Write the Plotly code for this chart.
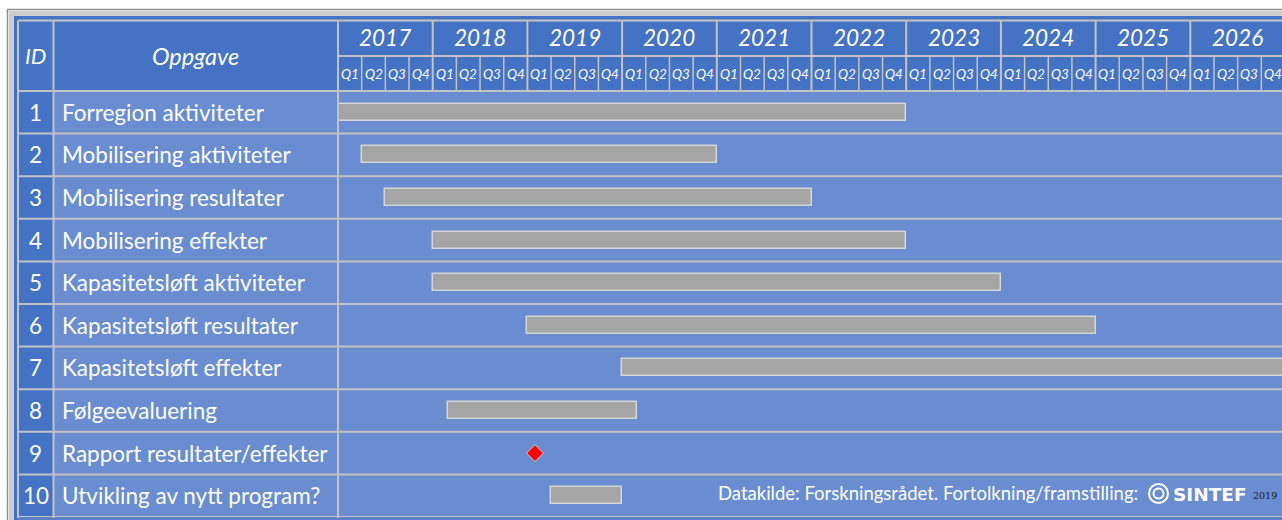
import plotly.graph_objects as go

# ---------------- data ----------------
ids = [1, 2, 3, 4, 5, 6, 7, 8, 9, 10]
tasks = [
    "Forregion aktiviteter",
    "Mobilisering aktiviteter",
    "Mobilisering resultater",
    "Mobilisering effekter",
    "Kapasitetsløft aktiviteter",
    "Kapasitetsløft resultater",
    "Kapasitetsløft effekter",
    "Følgeevaluering",
    "Rapport resultater/effekter",
    "Utvikling av nytt program?",
]
# start / end in decimal years (None = no bar)
start_year = [2017.0, 2017.25, 2017.5, 2018.0, 2018.0, 2019.0, 2020.0, 2018.16, None, 2019.25]
end_year = [2023.0, 2021.0, 2022.0, 2023.0, 2024.0, 2025.0, 2027.0, 2020.16, None, 2020.0]
milestone_id = [9]
milestone_year = [2019.08]
years = [2017, 2018, 2019, 2020, 2021, 2022, 2023, 2024, 2025, 2026]
quarters = ["Q1", "Q2", "Q3", "Q4"]
header_id = "ID"
header_task = "Oppgave"
source_text = "Datakilde: Forskningsrådet. Fortolkning/framstilling:"
logo_text = "SINTEF"
logo_year = "2019"

# ---------------- layout constants (pixels) ----------------
W, H = 1282, 520
X_L, X_ID, X_G = 18, 53.5, 338          # left edge, ID/Oppgave split, gantt start
Y_T, Y_M, Y_B, Y_E = 20.5, 56, 91, 517  # header top, header mid, header bottom, table bottom
YEAR_PX = 94.7

HDR = "#4472C4"
BODY = "#698DD0"
GRID = "#C3C3C3"
FONT = "Lato"


def px(x):
    return x / W


def py(y):
    return 1 - y / H


x0 = years[0]
x_end = x0 + (W - X_G) / YEAR_PX

fig = go.Figure()

# bars
bx, bb, by = [], [], []
for i, s, e in zip(ids, start_year, end_year):
    if s is None:
        continue
    by.append(i)
    bb.append(s)
    bx.append(e - s)
fig.add_trace(go.Bar(
    orientation="h", y=by, x=bx, base=bb, width=0.4,
    marker=dict(color="#A5A5A5", line=dict(color="#D6D6D6", width=1.5)),
    hoverinfo="skip", showlegend=False,
))
fig.add_trace(go.Scatter(
    x=milestone_year, y=milestone_id, mode="markers",
    marker=dict(symbol="diamond", size=13, color="#FF0000", line=dict(color="#D0D0D0", width=1)),
    hoverinfo="skip", showlegend=False,
))

shapes = []


def rect(xa, xb, ya, yb, fill):
    shapes.append(dict(type="rect", xref="paper", yref="paper", x0=px(xa), x1=px(xb), y0=py(yb), y1=py(ya),
                       fillcolor=fill, line=dict(width=0), layer="below"))


# frame
shapes.append(dict(type="rect", xref="paper", yref="paper", x0=px(7.5), x1=px(W + 10), y0=py(H + 10), y1=py(9.5),
                   fillcolor="#FFFFFF", line=dict(color="#8E8E8E", width=1.5), layer="below"))
rect(9, W + 10, 11, H + 10, "#CDCDCD")
rect(14, W + 10, 16, H + 10, HDR)
rect(X_L, W + 10, Y_E, H + 10, "#5B7FC8")
# header background
rect(X_L, W + 10, Y_T, Y_B, HDR)
# body background
rect(X_ID, W + 10, Y_B, Y_E, BODY)
# ID column body
rect(X_L, X_ID, Y_B, Y_E, HDR)


def hline(y, xa, xb, w=2):
    shapes.append(dict(type="line", xref="paper", yref="paper", x0=px(xa), x1=px(xb), y0=py(y), y1=py(y),
                       line=dict(color=GRID, width=w), layer="above"))


def vline(x, ya, yb, w=2):
    shapes.append(dict(type="line", xref="paper", yref="paper", x0=px(x), x1=px(x), y0=py(ya), y1=py(yb),
                       line=dict(color=GRID, width=w), layer="above"))


hline(Y_T, X_L, W + 5)
hline(Y_M, X_G, W + 5)
hline(Y_B, X_L, W + 5)
vline(X_L, Y_T, Y_E + 1)
vline(X_ID, Y_T, Y_E + 1)
vline(X_G, Y_T, Y_E + 1)
# row separators via y axis
for i in ids:
    shapes.append(dict(type="line", xref="paper", yref="y", x0=px(X_L), x1=px(W + 5), y0=i + 0.5, y1=i + 0.5,
                       line=dict(color=GRID, width=2), layer="above"))
# year / quarter separators via x axis
for yr in years:
    for q in range(len(quarters)):
        xv = yr + q / 4
        if q == 0:
            if yr == years[0]:
                continue
            shapes.append(dict(type="line", xref="x", yref="paper", x0=xv, x1=xv, y0=py(Y_B), y1=py(Y_T),
                               line=dict(color=GRID, width=2), layer="above"))
        else:
            shapes.append(dict(type="line", xref="x", yref="paper", x0=xv, x1=xv, y0=py(Y_B), y1=py(Y_M),
                               line=dict(color=GRID, width=1.5), layer="above"))

# SINTEF logo circles
shapes.append(dict(type="circle", xref="paper", yref="paper", x0=px(1149), x1=px(1168), y0=py(503), y1=py(484),
                   line=dict(color="white", width=2), fillcolor="rgba(0,0,0,0)", layer="above"))
shapes.append(dict(type="circle", xref="paper", yref="paper", x0=px(1153.5), x1=px(1163.5), y0=py(498.5), y1=py(488.5),
                   line=dict(color="white", width=2), fillcolor="rgba(0,0,0,0)", layer="above"))

ann = []
white = "white"
ann.append(dict(text=f"<i>{header_id}</i>", xref="paper", yref="paper", x=px((X_L + X_ID) / 2), y=py((Y_T + Y_B) / 2),
                showarrow=False, font=dict(family=FONT, size=22, color=white), xanchor="center", yanchor="middle"))
ann.append(dict(text=f"<i>{header_task}</i>", xref="paper", yref="paper", x=px((X_ID + X_G) / 2), y=py((Y_T + Y_B) / 2),
                showarrow=False, font=dict(family=FONT, size=23.5, color=white), xanchor="center", yanchor="middle"))
for yr in years:
    ann.append(dict(text=f"<i>{yr}</i>", xref="x", yref="paper", x=yr + 0.5, y=py((Y_T + Y_M) / 2 - 1),
                    showarrow=False, font=dict(family=FONT, size=22.5, color=white), xanchor="center", yanchor="middle"))
    for q, ql in enumerate(quarters):
        ann.append(dict(text=f"<i>{ql}</i>", xref="x", yref="paper", x=yr + (q + 0.5) / 4, y=py((Y_M + Y_B) / 2 + 0.5),
                        showarrow=False, font=dict(family=FONT, size=13.5, color=white), xanchor="center", yanchor="middle"))
for i, t in zip(ids, tasks):
    ann.append(dict(text=str(i), xref="paper", yref="y", x=px((X_L + X_ID) / 2), y=i,
                    showarrow=False, font=dict(family=FONT, size=22.5, color=white), xanchor="center", yanchor="middle"))
    ann.append(dict(text=t, xref="paper", yref="y", x=px(60), y=i,
                    showarrow=False, font=dict(family=FONT, size=22.5, color=white), xanchor="left", yanchor="middle"))
ann.append(dict(text=source_text, xref="paper", yref="paper", x=px(716), y=py(493),
                showarrow=False, font=dict(family=FONT, size=18.5, color=white), xanchor="left", yanchor="middle"))
ann.append(dict(text=f"<b>{logo_text}</b>", xref="paper", yref="paper", x=px(1171), y=py(494),
                showarrow=False, font=dict(family="DejaVu Sans", size=18.5, color=white), xanchor="left", yanchor="middle"))
ann.append(dict(text=logo_year, xref="paper", yref="paper", x=px(1251), y=py(495),
                showarrow=False, font=dict(family="DejaVu Serif", size=9.5, color="#1A1A1A"), xanchor="left", yanchor="middle"))

fig.update_layout(
    width=W, height=H,
    margin=dict(l=0, r=0, t=0, b=0),
    paper_bgcolor="white",
    plot_bgcolor=BODY,
    shapes=shapes,
    annotations=ann,
    showlegend=False,
    bargap=0,
    xaxis=dict(domain=[px(X_G), 1], range=[x0, x_end], showgrid=False, zeroline=False,
               showticklabels=False, ticks="", showline=False, fixedrange=True),
    yaxis=dict(domain=[py(Y_E), py(Y_B)], range=[ids[-1] + 0.5, ids[0] - 0.5], showgrid=False, zeroline=False,
               showticklabels=False, ticks="", showline=False, fixedrange=True),
)

fig.write_html("out.html", config={"displayModeBar": False},
               post_script="document.body.style.margin='0';document.body.style.overflow='hidden';")
